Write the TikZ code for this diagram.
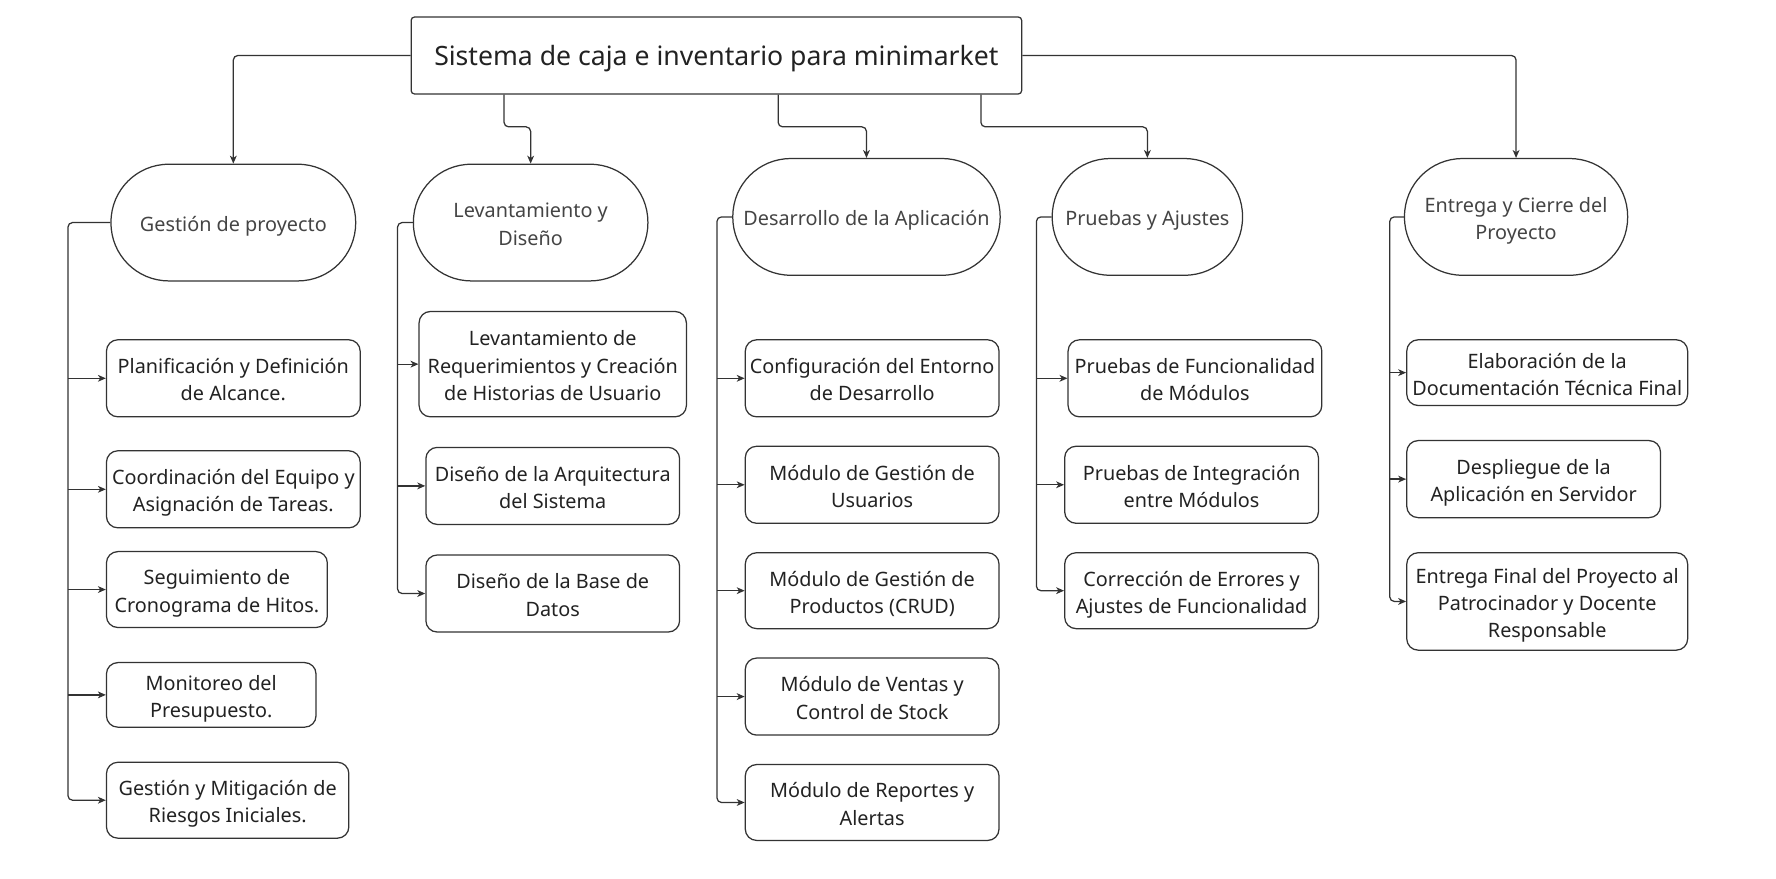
\documentclass[tikz,border=0pt]{standalone}
\usepackage{fontspec}
\setmainfont{Noto Sans}
\usetikzlibrary{arrows.meta,calc}
\definecolor{ln}{HTML}{333333}
\definecolor{tx}{HTML}{222222}
\definecolor{etx}{HTML}{444444}
\newcommand\ftop{\rule{0pt}{20.5pt}}
\tikzset{
  base/.style={draw=ln, line width=1.1pt, align=center, inner sep=0pt},
  lines/.style={font=\fontsize{17.5}{24}\selectfont,
    execute at end node={\rule[-4.7pt]{0pt}{0pt}}},
  box/.style={base, lines, rounded corners=10pt, text=tx},
  stad/.style={base, lines, rounded corners=51pt, text=etx, minimum height=103pt},
  topbox/.style={base, rounded corners=3pt, text=tx, font=\fontsize{23.5}{30}\selectfont,
    execute at begin node={\rule{0pt}{23.4pt}},
    execute at end node={\rule[-6.6pt]{0pt}{0pt}},
    minimum width=539pt, minimum height=68pt},
  conn/.style={draw=ln, line width=1.1pt, rounded corners=4pt, -{Stealth[length=7pt,width=6pt,inset=2pt]}},
}
\begin{document}
\begin{tikzpicture}[x=1pt,y=-1pt]
\useasboundingbox (0,0) rectangle (1568,776);

\node[topbox] (title) at (632.5,49) {Sistema de caja e inventario para minimarket};

\node[stad, minimum width=216pt] (e1) at (206,196.5) {\ftop Gestión de proyecto};
\node[stad, minimum width=207pt] (e2) at (468.5,196.5) {\ftop Levantamiento y\\Diseño};
\node[stad, minimum width=236pt] (e3) at (765,191.5) {\ftop Desarrollo de la Aplicación};
\node[stad, minimum width=168pt] (e4) at (1013,191.5) {\ftop Pruebas y Ajustes};
\node[stad, minimum width=197pt] (e5) at (1338.5,191.5) {\ftop Entrega y Cierre del\\Proyecto};

% column 1
\node[box, minimum width=224pt, minimum height=68pt] (b1) at (206,334) {\ftop Planificación y Definición\\de Alcance.};
\node[box, minimum width=224pt, minimum height=68pt] (b2) at (206,432) {\ftop Coordinación del Equipo y\\Asignación de Tareas.};
\node[box, minimum width=195pt, minimum height=67pt] (b3) at (191.5,520.5) {\ftop Seguimiento de\\Cronograma de Hitos.};
\node[box, minimum width=185pt, minimum height=57pt] (b4) at (186.5,613.5) {\ftop Monitoreo del\\Presupuesto.};
\node[box, minimum width=214pt, minimum height=67pt] (b5) at (201,706.5) {\ftop Gestión y Mitigación de\\Riesgos Iniciales.};

% column 2
\node[box, minimum width=236pt, minimum height=93pt] (c1) at (488,321.5) {\ftop Levantamiento de\\Requerimientos y Creación\\de Historias de Usuario};
\node[box, minimum width=224pt, minimum height=68pt] (c2) at (488,429) {\ftop Diseño de la Arquitectura\\del Sistema};
\node[box, minimum width=224pt, minimum height=68pt] (c3) at (488,524) {\ftop Diseño de la Base de\\Datos};

% column 3
\node[box, minimum width=224pt, minimum height=68pt] (d1) at (770,334) {\ftop Configuración del Entorno\\de Desarrollo};
\node[box, minimum width=224pt, minimum height=68pt] (d2) at (770,428) {\ftop Módulo de Gestión de\\Usuarios};
\node[box, minimum width=224pt, minimum height=67pt] (d3) at (770,521.5) {\ftop Módulo de Gestión de\\Productos (CRUD)};
\node[box, minimum width=224pt, minimum height=68pt] (d4) at (770,615) {\ftop Módulo de Ventas y\\Control de Stock};
\node[box, minimum width=224pt, minimum height=67pt] (d5) at (770,708.5) {\ftop Módulo de Reportes y\\Alertas};

% column 4
\node[box, minimum width=224pt, minimum height=68pt] (f1) at (1055,334) {\ftop Pruebas de Funcionalidad\\de Módulos};
\node[box, minimum width=224pt, minimum height=68pt] (f2) at (1052,428) {\ftop Pruebas de Integración\\entre Módulos};
\node[box, minimum width=224pt, minimum height=67pt] (f3) at (1052,521.5) {\ftop Corrección de Errores y\\Ajustes de Funcionalidad};

% column 5
\node[box, minimum width=248pt, minimum height=58pt] (g1) at (1366,329) {\ftop Elaboración de la\\Documentación Técnica Final};
\node[box, minimum width=224pt, minimum height=68pt] (g2) at (1354,423) {\ftop Despliegue de la\\Aplicación en Servidor};
\node[box, minimum width=248pt, minimum height=86pt] (g3) at (1366,531) {\ftop Entrega Final del Proyecto al\\Patrocinador y Docente\\Responsable};

% connectors from title
\coordinate (mid) at (0,112);
\coordinate (t2) at ([xshift=-187.5pt]title.south);
\coordinate (t3) at ([xshift=54.5pt]title.south);
\coordinate (t4) at ([xshift=233.5pt]title.south);
\draw[conn] (title.west) -| (e1.north);
\draw[conn] (t2) -- (t2 |- mid) -| (e2.north);
\draw[conn] (t3) -- (t3 |- mid) -| (e3.north);
\draw[conn] (t4) -- (t4 |- mid) -| (e4.north);
\draw[conn] (title.east) -| (e5.north);

% spines
\coordinate (s1) at (60,0);
\coordinate (s2) at (351,0);
\coordinate (s3) at (633,0);
\coordinate (s4) at (915,0);
\coordinate (s5) at (1227,0);

\draw[conn] (e1.west) -- (e1.west -| s1) |- (b5.west);
\foreach \n in {b1,b2,b3,b4} \draw[conn] (\n.west -| s1) -- (\n.west);

\draw[conn] (e2.west) -- (e2.west -| s2) |- (c3.west);
\foreach \n in {c1,c2} \draw[conn] (\n.west -| s2) -- (\n.west);

\draw[conn] (e3.west) -- (e3.west -| s3) |- (d5.west);
\foreach \n in {d1,d2,d3,d4} \draw[conn] (\n.west -| s3) -- (\n.west);

\draw[conn] (e4.west) -- (e4.west -| s4) |- (f3.west);
\foreach \n in {f1,f2} \draw[conn] (\n.west -| s4) -- (\n.west);

\draw[conn] (e5.west) -- (e5.west -| s5) |- (g3.west);
\foreach \n in {g1,g2} \draw[conn] (\n.west -| s5) -- (\n.west);
\end{tikzpicture}
\end{document}
